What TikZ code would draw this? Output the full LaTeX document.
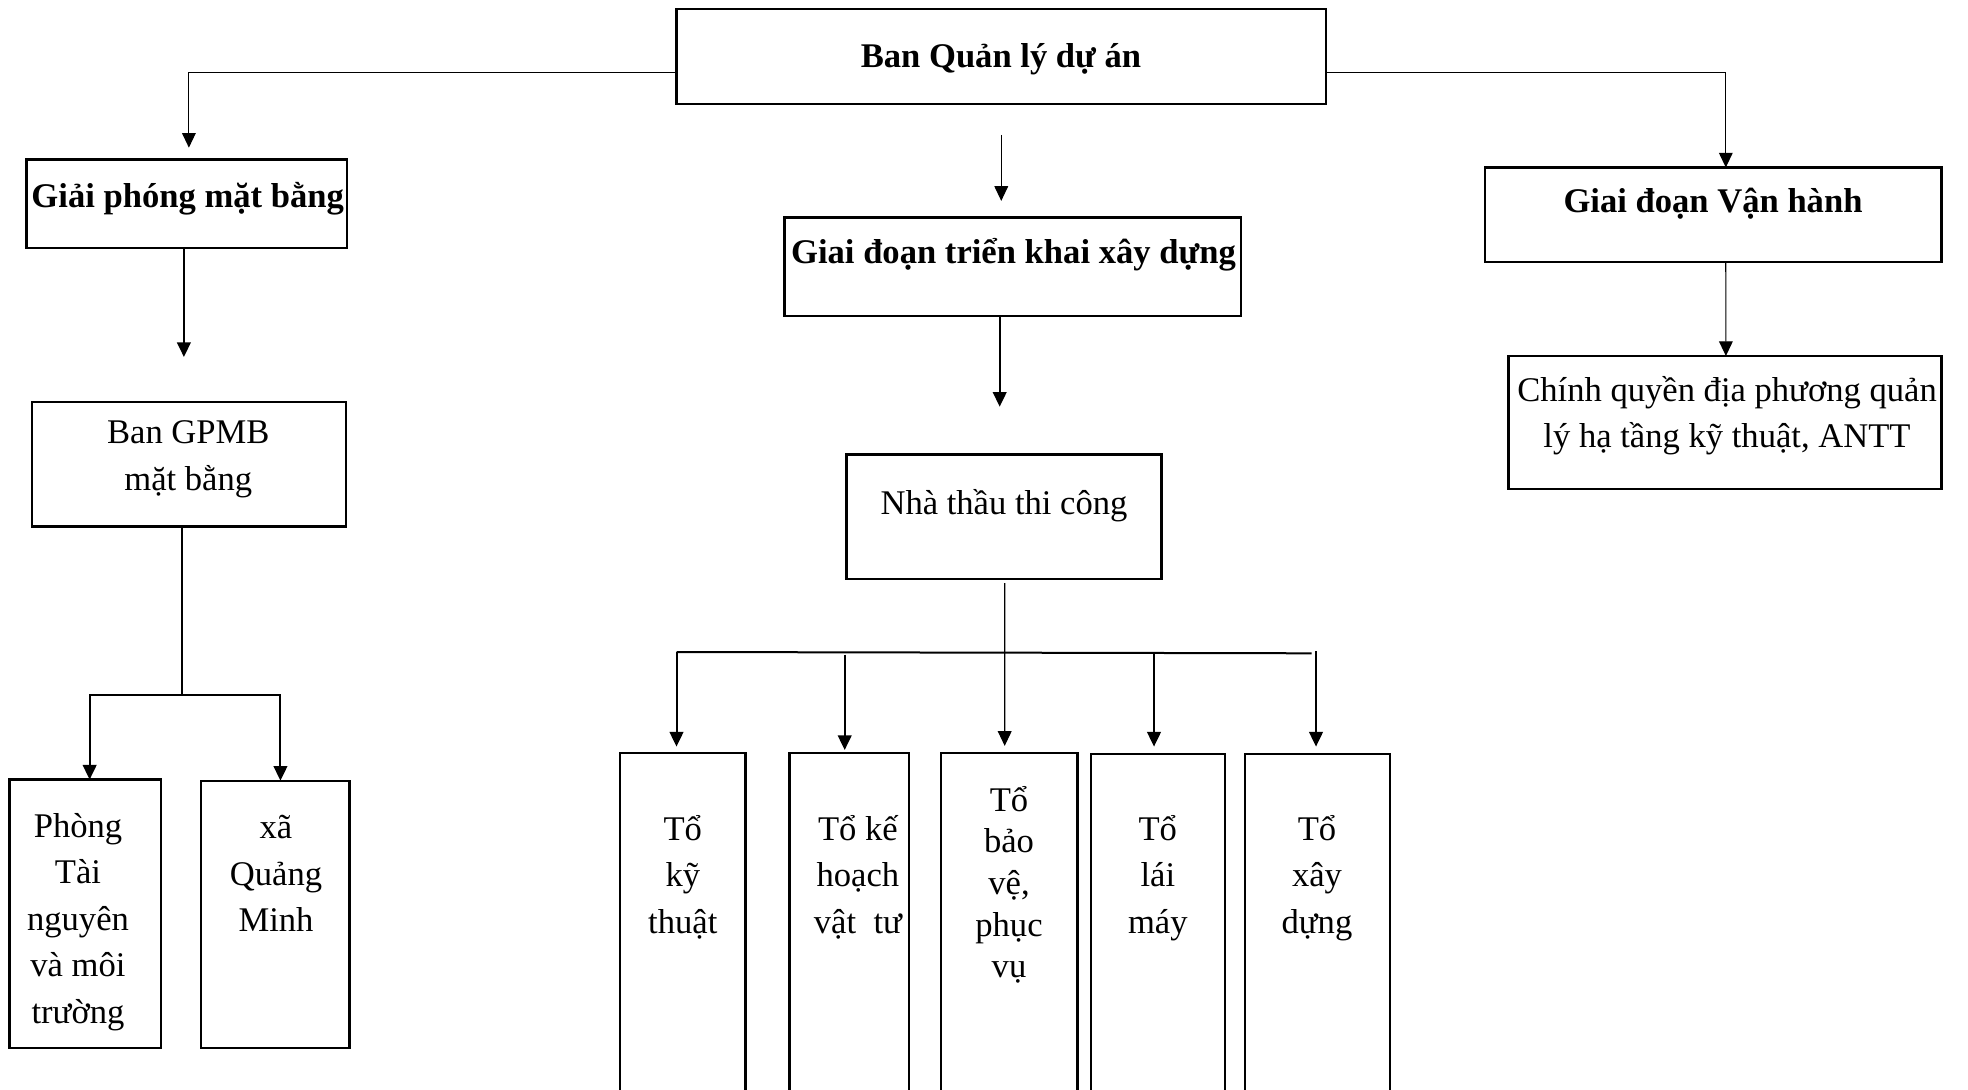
\documentclass[tikz,border=0pt]{standalone}
\usepackage{fontspec}
\setmainfont{Liberation Serif}
\usetikzlibrary{arrows.meta,calc}
\newcommand\fl{\rule{0pt}{12pt}}
\tikzset{
  bx/.style n args={2}{draw, line width=0.7pt, inner sep=0pt, outer sep=0pt, anchor=north west,
    minimum width=#1*0.3pt, minimum height=#2*0.3pt},
  txt/.style={anchor=north, inner sep=0pt, outer sep=0pt, align=center,
    font=\fontsize{10.38pt}{13.95pt}\selectfont},
  btxt/.style={txt, font=\fontsize{10.38pt}{13.95pt}\selectfont\bfseries},
  conn/.style={line width=0.6pt},
  connthin/.style={line width=0.35pt},
  arr/.style={-{Triangle[length=4.4pt,width=4.1pt]}}
}
\begin{document}
\begin{tikzpicture}[x=0.3pt,y=-0.3pt]
\useasboundingbox (0,0) rectangle (1968,1090);
\clip (0,0) rectangle (1968,1090);
\fill[white] (0,0) rectangle (1968,1090);
% boxes
\node[bx={649.5}{95}] (T) at (676.5,8.7) {};
\node[bx={320.6}{88.3}] (G) at (26.4,159.5) {};
\node[bx={313.8}{124.6}] (GP) at (32,402) {};
\node[bx={151.9}{268.4}] (PH) at (9.4,779.6) {};
\node[bx={148.7}{267.3}] (XA) at (200.8,780.7) {};
\node[bx={456.9}{98.7}] (K) at (784.4,217.6) {};
\node[bx={315}{124.1}] (NT) at (846.6,454.6) {};
\node[bx={456.8}{94.5}] (V) at (1484.8,167.5) {};
\node[bx={433}{132.7}] (CQ) at (1508.6,356) {};
\node[bx={125.5}{360}] (B1) at (620,752.9) {};
\node[bx={119.8}{360}] (B2) at (789.5,752.9) {};
\node[bx={136.2}{360}] (B3) at (941.3,752.9) {};
\node[bx={133.7}{360}] (B4) at (1091.3,754.2) {};
\node[bx={145}{360}] (B5) at (1245,754.2) {};
% texts (node north = first baseline - 40px)
\node[btxt] (tT) at (1001,28) {\fl Ban Quản lý dự án};
\node[btxt] (tG) at (187.7,167.5) {\fl Giải phóng mặt bằng};
\node[btxt] (tK) at (1013.5,224) {\fl Giai đoạn triển khai xây dựng};
\node[btxt] (tV) at (1713,172.7) {\fl Giai đoạn Vận hành};
\node[txt] (tGP) at (188.3,404) {\fl Ban GPMB\\mặt bằng};
\node[txt] (tNT) at (1004,474.4) {\fl Nhà thầu thi công};
\node[txt] (tCQ) at (1727,361.5) {\fl Chính quyền địa phương quản\\lý hạ tầng kỹ thuật, ANTT};
\node[txt] (tPH) at (78,797) {\fl Phòng\\Tài\\nguyên\\và môi\\trường};
\node[txt] (tXA) at (276,798.7) {\fl xã\\Quảng\\Minh};
\node[txt] (tB1) at (682.8,800.4) {\fl Tổ\\kỹ\\thuật};
\node[txt] (tB2) at (857.9,800.4) {\fl Tổ kế\\hoạch\\vật~ tư};
\node[txt, font=\fontsize{10.38pt}{12.5pt}\selectfont] (tB3) at (1009,771) {\fl Tổ\\bảo\\vệ,\\phục\\vụ};
\node[txt] (tB4) at (1157.8,800.4) {\fl Tổ\\lái\\máy};
\node[txt] (tB5) at (1317,800.4) {\fl Tổ\\xây\\dựng};
% connectors
\draw[connthin,arr] ($(T.north west)+(0,63.6)$) -| ($(G.north)+(2.2,-11.8)$);
\draw[connthin,arr] ($(T.north east)+(0,63.6)$) -| ($(V.north)+(12.6,0)$);
\draw[connthin,arr] ($(T.south)+(0,31.2)$) -- ($(T.south |- K.north)+(0,-16.7)$);
\draw[conn,arr] ($(G.south)+(-2.8,0)$) -- ++(0,109.2);
\draw[conn] ($(GP.south)+(-6.9,0)$) -- ++(0,167.9) coordinate (gj);
\draw[conn,arr] (gj) -| ($(PH.north)+(4.3,0)$);
\draw[conn,arr] (gj) -| ($(XA.north)+(5.3,0)$);
\draw[conn,arr] ($(K.south)+(-13.15,0)$) -- ++(0,90.4);
\draw[connthin,arr] ($(V.south)+(12.6,0)$) -- ($(CQ.north)+(0.8,0)$);
\draw[conn] ($(B1.north)+(-6.25,-100.9)$) -- ($(B5.north)+(-5.9,-100.9)$);
\draw[conn,arr] ($(B1.north)+(-6.25,-100.9)$) -- ($(B1.north)+(-6.25,-6.3)$);
\draw[conn,arr] ($(B2.north)+(-4.7,-98.4)$) -- ($(B2.north)+(-4.7,-2.9)$);
\draw[connthin,arr] ($(NT.south)+(0.6,4.5)$) -- ($(B3.north)+(-4.7,-7)$);
\draw[conn,arr] ($(B4.north)+(-4.15,-102.2)$) -- ($(B4.north)+(-4.15,-7.6)$);
\draw[conn,arr] ($(B5.north)+(-1.5,-103.2)$) -- ($(B5.north)+(-1.5,-7.6)$);
\end{tikzpicture}
\end{document}
